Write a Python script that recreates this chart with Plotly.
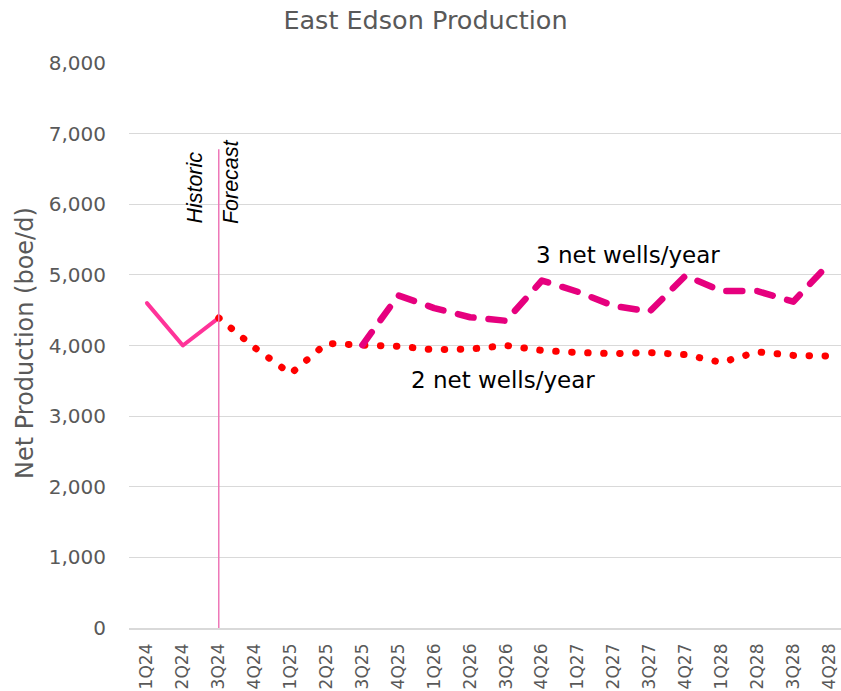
import plotly.graph_objects as go

quarters = ["1Q24", "2Q24", "3Q24", "4Q24", "1Q25", "2Q25", "3Q25", "4Q25", "1Q26", "2Q26",
            "3Q26", "4Q26", "1Q27", "2Q27", "3Q27", "4Q27", "1Q28", "2Q28", "3Q28", "4Q28"]

hist_q = ["1Q24", "2Q24", "3Q24"]
hist_vals = [4600, 4000, 4390]

two_q = quarters[2:]
two_vals = [4390, 3970, 3600, 4030, 4005, 3990, 3940, 3950, 4000, 3930,
            3900, 3885, 3900, 3870, 3760, 3910, 3860, 3850]

three_q = quarters[6:]
three_vals = [4005, 4710, 4530, 4400, 4350, 4920, 4760, 4560, 4480, 4990,
              4770, 4770, 4620, 5160]

y_ticks = [0, 1000, 2000, 3000, 4000, 5000, 6000, 7000, 8000]

GRAY = "#595959"
FONT = "DejaVu Sans"

L, R, T, B = 129, 0, 63, 63
W, H = 841, 691
PW, PH = W - L - R, H - T - B

fig = go.Figure()
fig.add_trace(go.Scatter(x=hist_q, y=hist_vals, mode="lines",
                         line=dict(color="#FF3399", width=4), name="Historic"))
fig.add_trace(go.Scatter(x=two_q, y=two_vals, mode="lines",
                         line=dict(color="#FF0000", width=7, dash="0.5px,15.5px"), name="2 net wells/year"))
fig.add_trace(go.Scatter(x=three_q, y=three_vals, mode="lines",
                         line=dict(color="#E6007E", width=6.5, dash="16px,15px"), name="3 net wells/year"))

# Historic / Forecast divider
fig.add_shape(type="line", xref="x", yref="y", x0="3Q24", x1="3Q24", y0=0, y1=6780,
              line=dict(color="#EE77B8", width=1.5))
fig.add_annotation(x="3Q24", y=5694, xref="x", yref="y", text="<i>Historic</i>", textangle=-90,
                   showarrow=False, xanchor="right", yanchor="bottom", xshift=-10,
                   font=dict(family="Liberation Sans", size=21.5, color="#000000"))
fig.add_annotation(x="3Q24", y=5694, xref="x", yref="y", text="<i>Forecast</i>", textangle=-90,
                   showarrow=False, xanchor="left", yanchor="bottom", xshift=-1,
                   font=dict(family="Liberation Sans", size=21.5, color="#000000"))

fig.add_annotation(x=13.4, y=5283, xref="x", yref="y", text="3 net wells/year",
                   showarrow=False,
                   font=dict(family=FONT, size=23, color="#000000"))
fig.add_annotation(x=9.92, y=3513, xref="x", yref="y", text="2 net wells/year",
                   showarrow=False,
                   font=dict(family=FONT, size=23, color="#000000"))

# y-axis title
fig.add_annotation(x=(25 - L) / PW, y=(H - B - 343) / PH, xref="paper", yref="paper",
                   text="Net Production (boe/d)", textangle=-90, showarrow=False,
                   xanchor="center", yanchor="middle",
                   font=dict(family=FONT, size=24, color=GRAY))

fig.update_layout(
    width=W, height=H,
    margin=dict(l=L, r=R, t=T, b=B, autoexpand=False),
    paper_bgcolor="white", plot_bgcolor="white",
    showlegend=False,
    title=dict(text="East Edson Production", x=425.5 / W, xanchor="center", y=1 - 20 / H,
               yanchor="middle", font=dict(family=FONT, size=25.5, color=GRAY)),
    xaxis=dict(type="category", categoryorder="array", categoryarray=quarters,
               range=[-0.5, 19.33], showgrid=False, showline=True, linecolor="#D9D9D9",
               linewidth=1.5, automargin=False,
               tickangle=-90, ticks="outside", ticklen=7, tickcolor="rgba(0,0,0,0)",
               tickfont=dict(family=FONT, size=17, color=GRAY)),
    yaxis=dict(range=[0, 8000], tickvals=y_ticks, tickformat=",", showgrid=True,
               gridcolor="#D9D9D9", gridwidth=1, zeroline=False, showline=False,
               automargin=False,
               ticks="outside", ticklen=18, tickcolor="rgba(0,0,0,0)",
               tickfont=dict(family=FONT, size=20, color=GRAY)),
)

post = """
document.body.style.margin = '0';
document.body.style.overflow = 'hidden';
document.querySelectorAll('.scatterlayer .js-line').forEach(function(p){
  p.style.strokeLinecap = 'round';
  p.style.strokeLinejoin = 'round';
});
"""
fig.write_html("out.html", post_script=post, config={"displayModeBar": False})
